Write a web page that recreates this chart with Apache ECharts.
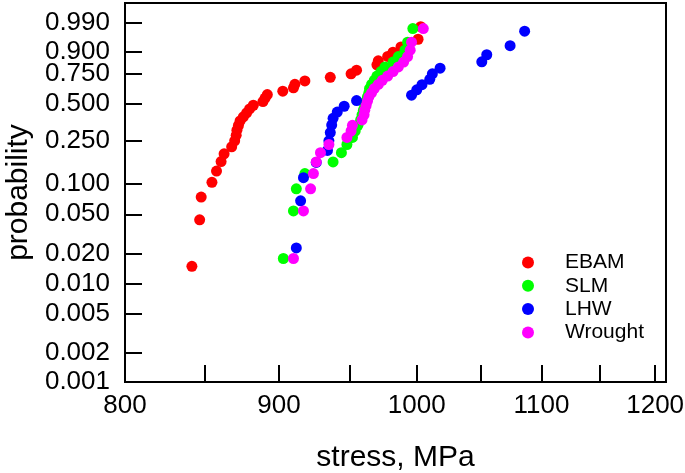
<!DOCTYPE html>
<html><head><meta charset="utf-8">
<script src="https://cdn.jsdelivr.net/npm/echarts@6/dist/echarts.min.js"></script>
<style>html,body{margin:0;padding:0;background:#fff}#c{width:685px;height:473px}</style>
</head><body><div id="c"></div>
<script>
// ---- data (stress in MPa, cumulative failure probability) ----
const seriesNames = ['EBAM', 'SLM', 'LHW', 'Wrought'];

const ebamStress = [842, 847, 848, 855, 858, 861, 863, 868, 870, 871, 871.5, 872.5, 873.6, 875.8, 878, 880, 882.5, 889, 890.5, 892, 902.6, 910, 911, 918, 936, 951, 955, 970, 971, 978, 982, 988, 1001, 1003];
const ebamProb = [0.015, 0.044, 0.074, 0.103, 0.132, 0.162, 0.191, 0.221, 0.250, 0.279, 0.309, 0.338, 0.368, 0.397, 0.426, 0.456, 0.485, 0.515, 0.544, 0.574, 0.603, 0.632, 0.662, 0.691, 0.721, 0.750, 0.779, 0.820, 0.848, 0.876, 0.900, 0.926, 0.956, 0.985];

const slmStress = [903, 910, 912, 918, 938, 944, 948, 952, 954, 956, 958, 959, 960, 961, 962, 963, 964, 964.5, 966, 968, 970, 973, 976, 982, 986, 991, 993, 997];
const slmProb = [0.018, 0.054, 0.089, 0.125, 0.161, 0.196, 0.232, 0.268, 0.304, 0.339, 0.375, 0.411, 0.446, 0.482, 0.518, 0.554, 0.589, 0.625, 0.661, 0.696, 0.732, 0.768, 0.804, 0.839, 0.875, 0.911, 0.946, 0.982];

const lhwStress = [912, 915, 917, 926, 934, 935, 936, 937, 938, 941, 946, 955, 996, 1000, 1004, 1010, 1012, 1018, 1051, 1055, 1074, 1086];
const lhwProb = [0.023, 0.068, 0.114, 0.159, 0.205, 0.250, 0.295, 0.341, 0.386, 0.432, 0.477, 0.523, 0.568, 0.614, 0.659, 0.705, 0.750, 0.795, 0.841, 0.886, 0.932, 0.977];

const wroughtStress = [910, 917, 922, 924, 926, 929, 935, 948, 951, 952, 959, 960.5, 961, 962, 963, 964, 966, 968, 971, 974, 978, 982, 986, 990, 993, 995, 996, 1005];
const wroughtProb = [0.018, 0.054, 0.089, 0.125, 0.161, 0.196, 0.232, 0.268, 0.304, 0.339, 0.375, 0.411, 0.446, 0.482, 0.518, 0.554, 0.589, 0.625, 0.661, 0.696, 0.732, 0.768, 0.804, 0.839, 0.875, 0.911, 0.946, 0.982];

const probTickLabels = ['0.001', '0.002', '0.005', '0.010', '0.020', '0.050', '0.100', '0.250', '0.500', '0.750', '0.900', '0.990'];
const stressTickValues = [800, 850, 900, 950, 1000, 1050, 1100, 1150, 1200];
const stressLabelValues = [800, 900, 1000, 1100, 1200];
const colors = ['#ff0000', '#00ff00', '#0000ff', '#ff00ff'];

// ---- scales: log stress (x), Weibull probability (y) ----
const weib = p => Math.log(-Math.log(1 - p));
const lnS = s => Math.log(s);
const probTickVals = probTickLabels.map(t => weib(parseFloat(t)));

function pts(xs, ps) { return xs.map((s, i) => [lnS(s), weib(ps[i])]); }
const allData = [pts(ebamStress, ebamProb), pts(slmStress, slmProb), pts(lhwStress, lhwProb), pts(wroughtStress, wroughtProb)];

const FONT = '"Liberation Sans", Arial, sans-serif';
const chart = echarts.init(document.getElementById('c'), null, {renderer: 'canvas'});
chart.setOption({
  animation: false,
  backgroundColor: '#fff',
  grid: {left: 125, right: 19, top: 3, bottom: 91, show: true, borderColor: '#000', borderWidth: 2, outerBoundsMode: 'none', containLabel: false},
  legend: {
    orient: 'vertical', left: 517, top: 247, itemWidth: 64, itemHeight: 12, itemGap: 2.3,
    icon: 'circle', selectedMode: false,
    textStyle: {fontFamily: FONT, fontSize: 21, lineHeight: 21, color: '#000'},
    data: seriesNames
  },
  xAxis: {
    type: 'value', min: lnS(800), max: lnS(1210),
    name: 'stress, MPa', nameLocation: 'middle', nameGap: 61,
    nameTextStyle: {fontFamily: FONT, fontSize: 30, color: '#000'},
    axisLine: {show: true, onZero: false, lineStyle: {color: '#000', width: 2}},
    axisTick: {show: true, inside: true, length: 17, lineStyle: {color: '#000', width: 2}, customValues: stressTickValues.map(lnS)},
    axisLabel: {fontFamily: FONT, fontSize: 26, color: '#000', margin: 11, customValues: stressLabelValues.map(lnS),
      formatter: v => String(Math.round(Math.exp(v)))},
    splitLine: {show: false}
  },
  yAxis: {
    type: 'value', min: weib(0.001), max: 1.99,
    name: 'probability', nameLocation: 'middle', nameGap: 90,
    nameTextStyle: {fontFamily: FONT, fontSize: 30, color: '#000'},
    axisLine: {show: true, onZero: false, lineStyle: {color: '#000', width: 2}},
    axisTick: {show: true, inside: true, length: 17, lineStyle: {color: '#000', width: 2}, customValues: probTickVals},
    axisLabel: {fontFamily: FONT, fontSize: 26, color: '#000', margin: 15, customValues: probTickVals,
      formatter: v => {
        let bi = 0, bd = Infinity;
        probTickVals.forEach((t, i) => { const d = Math.abs(t - v); if (d < bd) { bd = d; bi = i; } });
        return probTickLabels[bi];
      }},
    splitLine: {show: false}
  },
  series: seriesNames.map((n, i) => ({
    name: n, type: 'scatter', data: allData[i], symbol: 'circle', symbolSize: 11,
    itemStyle: {color: colors[i], opacity: 1}, emphasis: {disabled: true}
  }))
});
</script></body></html>
